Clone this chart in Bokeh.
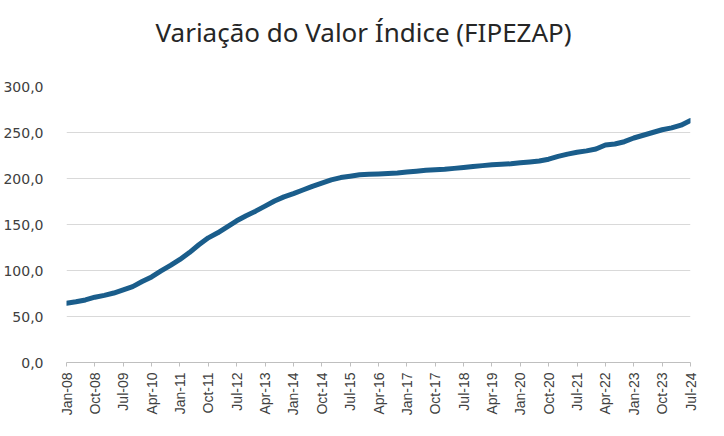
import math
from bokeh.plotting import figure
from bokeh.models import FixedTicker, Range1d, Title
from bokeh.embed import file_html
from bokeh.resources import INLINE

# Quarterly observations (Jan, Apr, Jul, Oct) from Jan-2008 to Jul-2024
start_year = 2008
quarter_months = [1, 4, 7, 10]
values = [
    64.5, 66.0, 68.0, 71.0,      # 2008
    73.0, 75.5, 79.0, 82.5,      # 2009
    88.0, 93.0, 99.5, 105.5,     # 2010
    112.0, 119.5, 128.0, 135.5,  # 2011
    141.0, 147.5, 154.0, 159.5,  # 2012
    164.5, 170.0, 175.5, 180.0,  # 2013
    183.5, 187.5, 191.5, 195.0,  # 2014
    198.5, 201.0, 202.5, 204.0,  # 2015
    204.5, 205.0, 205.5, 206.0,  # 2016
    207.0, 208.0, 209.0, 209.5,  # 2017
    210.0, 211.0, 212.0, 213.0,  # 2018
    214.0, 215.0, 215.5, 216.0,  # 2019
    217.0, 218.0, 219.0, 221.0,  # 2020
    224.0, 226.5, 228.5, 230.0,  # 2021
    232.0, 236.5, 237.5, 240.0,  # 2022
    244.0, 247.0, 250.0, 253.0,  # 2023
    255.0, 258.0, 263.0,         # 2024
]

title_text = "Variação do Valor Índice (FIPEZAP)"
tick_labels = ["Jan-08", "Oct-08", "Jul-09", "Apr-10", "Jan-11", "Oct-11",
               "Jul-12", "Apr-13", "Jan-14", "Oct-14", "Jul-15", "Apr-16",
               "Jan-17", "Oct-17", "Jul-18", "Apr-19", "Jan-20", "Oct-20",
               "Jul-21", "Apr-22", "Jan-23", "Oct-23", "Jul-24"]
y_ticks = [0, 50, 100, 150, 200, 250, 300]
y_tick_labels = ["0,0", "50,0", "100,0", "150,0", "200,0", "250,0", "300,0"]

# month index since Jan-2008
x = []
for i in range(len(values)):
    year = start_year + i // 4
    month = quarter_months[i % 4]
    x.append((year - start_year) * 12 + (month - 1))

month_of = {"Jan": 1, "Apr": 4, "Jul": 7, "Oct": 10}
tick_pos = [(2000 + int(t[4:]) - start_year) * 12 + month_of[t[:3]] - 1 for t in tick_labels]

p = figure(width=708, height=420, output_backend="svg", toolbar_location=None,
           title=None,
           x_range=Range1d(0, tick_pos[-1]), y_range=Range1d(0, 300),
           min_border_left=65, min_border_right=18, min_border_top=86,
           min_border_bottom=58)

# spacer between frame and title
spacer = Title(text=" ", text_font_size="1px", standoff=24)
p.add_layout(spacer, "above")
main_title = Title(text=title_text, text_font="Noto Sans", text_font_style="normal",
                   text_font_size="26px", text_color="#262626",
                   align="left", offset=89, standoff=20)
p.add_layout(main_title, "above")

p.line(x, values, line_width=5, line_color="#1a5d8b", line_join="round", line_cap="round")

p.outline_line_color = None
p.background_fill_color = "white"
p.border_fill_color = "white"

p.xgrid.grid_line_color = None
p.ygrid.grid_line_color = "#d9d9d9"
p.ygrid.grid_line_width = 1.2

p.xaxis.ticker = FixedTicker(ticks=tick_pos)
p.xaxis.major_label_overrides = {tp: lab for tp, lab in zip(tick_pos, tick_labels)}
p.xaxis.major_label_orientation = math.pi / 2
p.xaxis.axis_line_color = "#bfbfbf"
p.xaxis.major_tick_line_color = "#bfbfbf"
p.xaxis.major_tick_out = 4
p.xaxis.major_tick_in = 0
p.xaxis.minor_tick_line_color = None
p.xaxis.major_label_text_font = "Liberation Sans"
p.xaxis.major_label_text_font_size = "14px"
p.xaxis.major_label_text_color = "#404040"
p.xaxis.major_label_standoff = 6

p.yaxis.ticker = FixedTicker(ticks=y_ticks)
p.yaxis.major_label_overrides = {t: lab for t, lab in zip(y_ticks, y_tick_labels)}
p.yaxis.axis_line_color = None
p.yaxis.major_tick_line_color = None
p.yaxis.minor_tick_line_color = None
p.yaxis.major_label_text_font = "DejaVu Sans"
p.yaxis.major_label_text_font_size = "14px"
p.yaxis.major_label_text_color = "#404040"
p.yaxis.major_label_standoff = 17

open("out.html", "w").write(file_html(p, INLINE))
